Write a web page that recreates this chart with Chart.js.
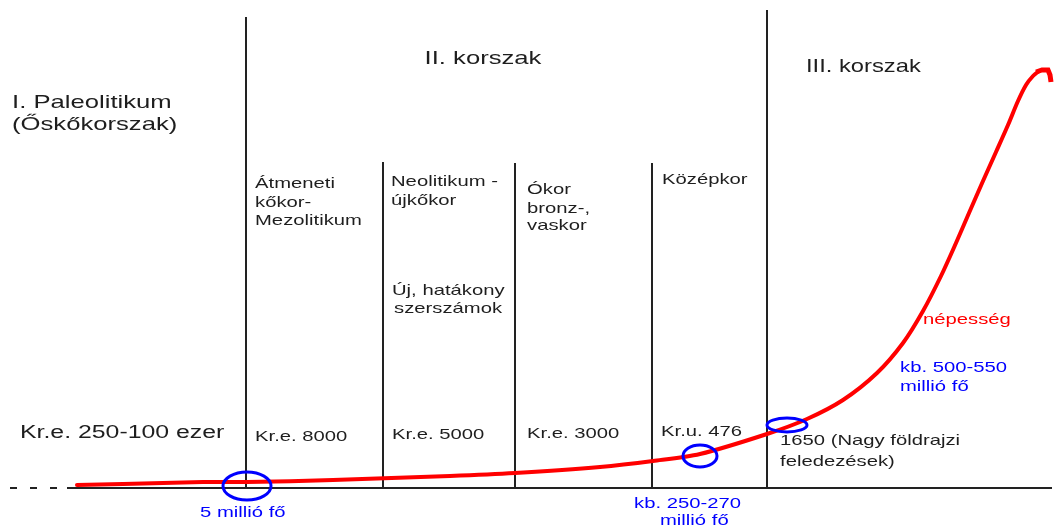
<!DOCTYPE html>
<html>
<head>
<meta charset="utf-8">
<script src="https://cdn.jsdelivr.net/npm/chart.js@4"></script>
<style>
    html, body { margin: 0; padding: 0; background: #fff; }
    #wrap { width: 1056px; height: 526px; }
</style>
</head>
<body>
<div id="wrap"><canvas id="popChart" width="1056" height="526"></canvas></div>
<script>
// schematic position along the time line, population height above the baseline
const curveX = [77, 123, 203, 247, 333, 450, 515, 600, 653, 700, 767, 807, 843, 877, 903, 923, 941, 956, 969, 983, 996, 1008, 1018, 1026, 1033, 1039];
const curveY = [3, 4, 6, 6, 8, 12, 15, 21, 27, 34, 54, 69, 88, 115, 145, 177, 212, 245, 275, 307, 336, 363, 387, 403, 412, 417];

// arrow tip at the end of the curve
const arrowX = [1036, 1042, 1048, 1050, 1051];
const arrowY = [416, 418, 418, 413, 406];

// period / era dividers
const dividerX = [246, 383, 515, 652, 767];
const dividerTop = [471, 326, 325, 325, 478];

// marked population points (circled)
const markerX = [247, 700, 787];
const markerY = [2, 32, 63];

const periods = ["I. Paleolitikum", "(Őskőkorszak)", "II. korszak", "III. korszak"];
const eras = ["Átmeneti", "kőkor-", "Mezolitikum", "Neolitikum -", "újkőkor", "Új, hatákony", "szerszámok", "Ókor", "bronz-,", "vaskor", "Középkor"];
const dates = ["Kr.e. 250-100 ezer", "Kr.e. 8000", "Kr.e. 5000", "Kr.e. 3000", "Kr.u. 476", "1650 (Nagy földrajzi", "feledezések)"];
const populations = ["5 millió fő", "kb. 250-270", "millió fő", "kb. 500-550", "millió fő"];
const seriesName = "népesség";

const dark = "#1e1e1e";
const blue = "#0000ff";
const red = "#ff0000";
const stretch = 1.35;

// text layout: [text, x, y, size, colour, align, stretch]
const textLayout = [
    [periods[0], 12, 103, 19, dark],
    [periods[1], 12, 125, 19, dark],
    [periods[2], 483, 59, 19, dark, "center"],
    [periods[3], 806, 67, 19, dark, "left", 1.25],
    [eras[0], 255, 184, 15, dark],
    [eras[1], 255, 203, 15, dark],
    [eras[2], 255, 221, 15, dark],
    [eras[3], 391, 182, 15, dark],
    [eras[4], 391, 201, 15, dark],
    [eras[5], 392, 291, 15, dark],
    [eras[6], 394, 309, 15, dark],
    [eras[7], 527, 190, 15, dark],
    [eras[8], 527, 209, 15, dark],
    [eras[9], 527, 226, 15, dark],
    [eras[10], 662, 180, 15, dark],
    [dates[0], 20, 433, 18, dark, "left", 1.38],
    [dates[1], 255, 437, 15, dark],
    [dates[2], 392, 435, 15, dark],
    [dates[3], 527, 434, 15, dark],
    [dates[4], 661, 432, 15, dark],
    [dates[5], 780, 441, 15, dark],
    [dates[6], 780, 462, 15, dark],
    [populations[0], 200, 513, 15, blue],
    [populations[1], 634, 504, 15, blue],
    [populations[2], 660, 521, 15, blue],
    [populations[3], 900, 368, 15, blue],
    [populations[4], 900, 387, 15, blue],
    [seriesName, 923, 320, 15, red],
];

const textPlugin = {
    id: "schemeText",
    beforeDatasetsDraw(chart) {
        const ctx = chart.ctx;
        textLayout.forEach(([txt, x, y, size, color, align, sx]) => {
            ctx.save();
            ctx.font = size + "px 'Liberation Sans', Arial, sans-serif";
            ctx.fillStyle = color;
            ctx.textBaseline = "middle";
            ctx.textAlign = align || "left";
            ctx.translate(x, y);
            ctx.scale(sx || stretch, 1);
            ctx.fillText(txt, 0, 0);
            ctx.restore();
        });
    },
    afterDatasetsDraw(chart) {
        const ctx = chart.ctx;
        const xs = chart.scales.x;
        const ys = chart.scales.y;
        const radii = [[24, 14], [17, 11], [20, 7]];
        ctx.save();
        ctx.strokeStyle = blue;
        ctx.lineWidth = 3;
        markerX.forEach((mx, i) => {
            ctx.beginPath();
            ctx.ellipse(xs.getPixelForValue(mx), ys.getPixelForValue(markerY[i]), radii[i][0], radii[i][1], 0, 0, Math.PI * 2);
            ctx.stroke();
        });
        ctx.restore();
    },
};

const dividerSets = dividerX.map((dx, i) => ({
    data: [{ x: dx, y: 0 }, { x: dx, y: dividerTop[i] }],
    borderColor: "#222",
    borderWidth: 2,
    pointRadius: 0,
    order: 5,
}));

new Chart(document.getElementById("popChart"), {
    type: "line",
    data: {
        datasets: [
            {
                label: seriesName,
                data: curveX.map((x, i) => ({ x, y: curveY[i] })),
                borderColor: red,
                borderWidth: 4,
                pointRadius: 0,
                tension: 0.3,
                borderCapStyle: "round",
                order: 1,
            },
            {
                data: arrowX.map((x, i) => ({ x, y: arrowY[i] })),
                borderColor: red,
                borderWidth: 5,
                pointRadius: 0,
                tension: 0,
                borderJoinStyle: "miter",
                order: 1,
            },
            {
                data: [{ x: 67, y: 0 }, { x: 1052, y: 0 }],
                borderColor: "#222",
                borderWidth: 2,
                pointRadius: 0,
                order: 4,
            },
            {
                data: [{ x: 10, y: 0 }, { x: 60, y: 0 }],
                borderColor: "#222",
                borderWidth: 2,
                borderDash: [7, 13],
                pointRadius: 0,
                order: 4,
            },
            ...dividerSets,
        ],
    },
    options: {
        responsive: false,
        animation: false,
        clip: false,
        layout: { padding: 0 },
        plugins: {
            legend: { display: false },
            tooltip: { enabled: false },
        },
        scales: {
            x: { type: "linear", min: 0, max: 1056, display: false },
            y: { type: "linear", min: -38, max: 488, display: false },
        },
    },
    plugins: [textPlugin],
});
</script>
</body>
</html>
